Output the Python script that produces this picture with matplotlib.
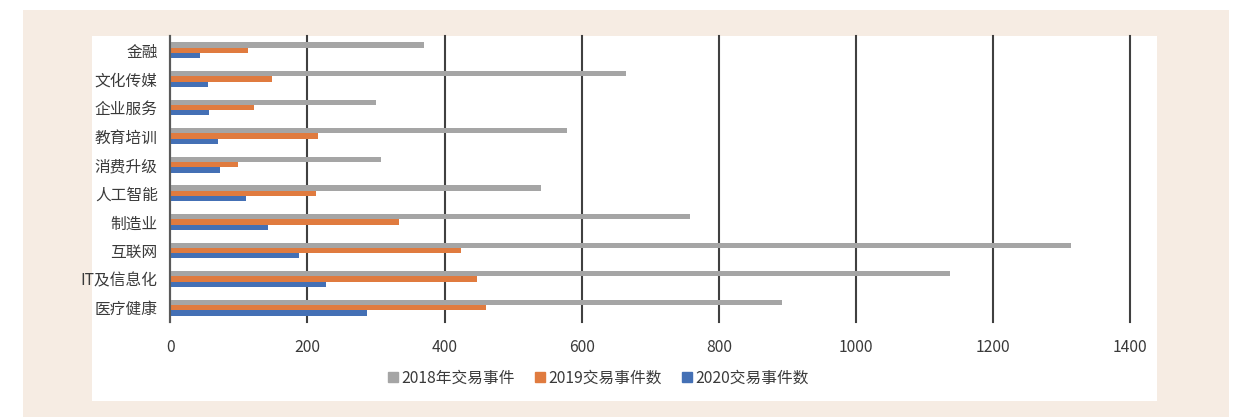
import matplotlib
matplotlib.use('Agg')
import matplotlib.pyplot as plt
from matplotlib.patches import Rectangle
from matplotlib.lines import Line2D
import numpy as np

plt.rcParams['font.family'] = ['Noto Sans CJK SC', 'DejaVu Sans']

# Data (top to bottom).
industries = ['金融', '文化传媒', '企业服务', '教育培训', '消费升级',
              '人工智能', '制造业', '互联网', 'IT及信息化', '医疗健康']
deals_2018 = [370, 665, 300, 578, 307, 541, 758, 1313, 1137, 892]
deals_2019 = [113, 148, 122, 215, 99, 212, 334, 424, 447, 460]
deals_2020 = [44, 55, 56, 69, 72, 110, 142, 188, 227, 287]
series_names = ['2018年交易事件', '2019交易事件数', '2020交易事件数']
x_ticks = [0, 200, 400, 600, 800, 1000, 1200, 1400]

colors = ['#A5A5A5', '#E07B3F', '#4470B5']
text_color = '#3A3A3A'

W, H = 1236, 417
fig = plt.figure(figsize=(W / 100, H / 100), dpi=100)
fig.patch.set_facecolor('white')

# beige panel and white inner panel (pixel boxes converted to figure fractions)
def px_box(x0, y0, x1, y1, color):
    fig.add_artist(Rectangle((x0 / W, 1 - y1 / H), (x1 - x0) / W, (y1 - y0) / H,
                             transform=fig.transFigure, facecolor=color,
                             edgecolor='none', zorder=-10))

px_box(23, 10, 1229, 417, '#F6ECE3')
px_box(92, 36, 1157, 401, 'white')

ax = fig.add_axes([170.3 / W, 1 - 322 / H, 960 / W, 286 / H])
ax.set_facecolor('none')

y = np.arange(len(industries))
h = 0.185
ax.barh(y - h, deals_2018, height=h, color=colors[0], zorder=3)
ax.barh(y, deals_2019, height=h, color=colors[1], zorder=3)
ax.barh(y + h, deals_2020, height=h, color=colors[2], zorder=3)

ax.set_ylim(len(industries) - 0.5, -0.5)
ax.set_xlim(0, 1400)
ax.set_yticks(y)
ax.set_yticklabels(industries)
ax.set_xticks(x_ticks)
ax.tick_params(axis='both', length=0, labelsize=11.3, colors=text_color)
ax.tick_params(axis='y', pad=9)
ax.tick_params(axis='x', pad=12)

ax.xaxis.grid(True, color='#404040', linewidth=1.5, zorder=1)
for gl in ax.get_xgridlines():
    gl.set_clip_on(False)
ax.set_axisbelow(True)
for side in ['top', 'right', 'bottom']:
    ax.spines[side].set_visible(False)
ax.spines['left'].set_color('#5A5A5A')
ax.spines['left'].set_linewidth(1.5)
ax.spines['left'].set_zorder(4)

handles = [Line2D([], [], linestyle='none', marker='s', markersize=7.5,
                  markerfacecolor=c, markeredgecolor=c) for c in colors]
fig.legend(handles, series_names, loc='center', ncol=3,
           bbox_to_anchor=(597 / W, 1 - 378 / H), frameon=False,
           fontsize=11.3, handletextpad=0.05, columnspacing=1.1,
           labelcolor=text_color, handlelength=1.0)

fig.savefig('out.png', dpi=100)
